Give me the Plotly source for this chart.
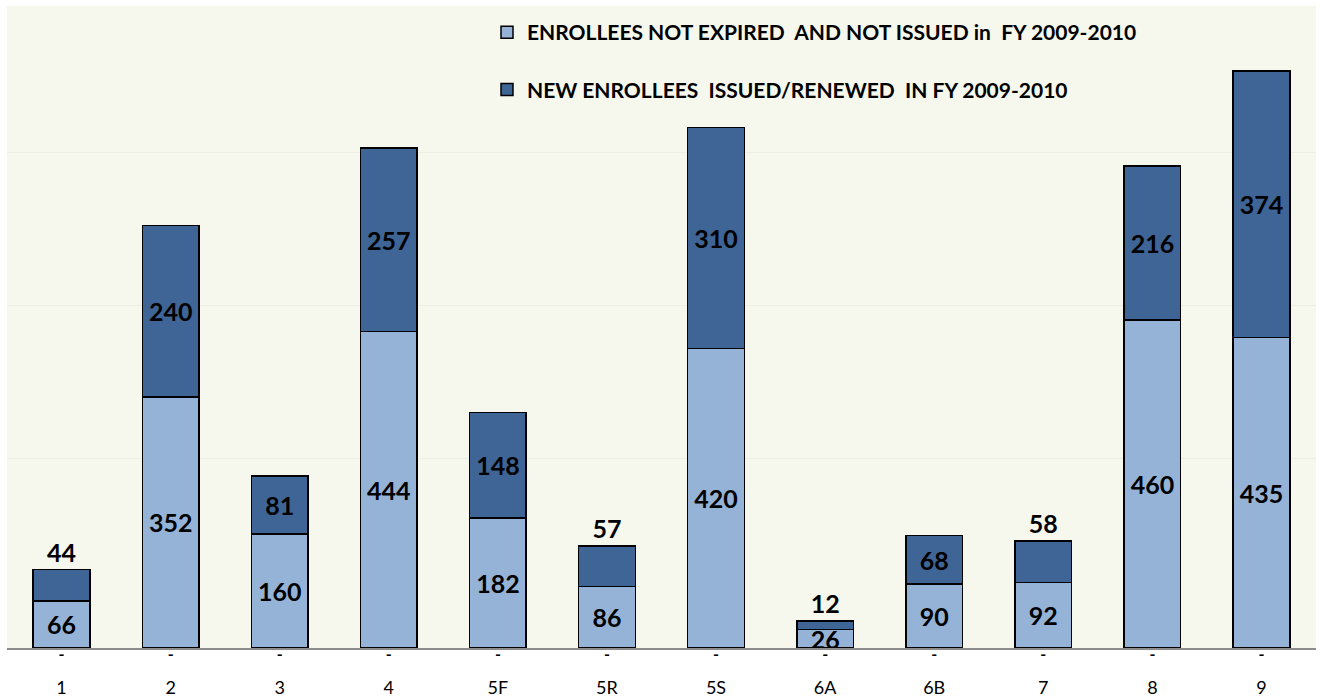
import plotly.graph_objects as go

categories = ["1", "2", "3", "4", "5F", "5R", "5S", "6A", "6B", "7", "8", "9"]
not_expired = [66, 352, 160, 444, 182, 86, 420, 26, 90, 92, 460, 435]
new_issued = [44, 240, 81, 257, 148, 57, 310, 12, 68, 58, 216, 374]
zero_series = [0] * len(categories)

name_light = "ENROLLEES NOT EXPIRED\u00a0 AND NOT ISSUED in\u00a0 FY 2009-2010"
name_dark = "NEW ENROLLEES\u00a0 ISSUED/RENEWED\u00a0 IN FY 2009-2010"

LIGHT = "#95b3d7"
DARK = "#3f6597"
FONT = "Lato"
SMALL_LIMIT = 60  # segments thinner than this get their label above the bar

dark_positions = ["outside" if v < SMALL_LIMIT else "inside" for v in new_issued]

fig = go.Figure()
fig.add_trace(go.Bar(
    x=categories, y=not_expired, name=name_light,
    marker=dict(color=LIGHT, line=dict(color="black", width=1.5)),
    width=0.52,
    text=[str(v) for v in not_expired],
    textposition="inside", insidetextanchor="middle", textangle=0,
    constraintext="none",
    textfont=dict(family=FONT, size=25, color="black", weight="bold"),
    insidetextfont=dict(family=FONT, size=25, color="black", weight="bold"),
    legendgroup="a", hoverinfo="x+y",
))
fig.add_trace(go.Bar(
    x=categories, y=new_issued, name=name_dark,
    marker=dict(color=DARK, line=dict(color="black", width=1.5)),
    width=0.52,
    text=[str(v) for v in new_issued],
    textposition=dark_positions, insidetextanchor="middle", textangle=0,
    constraintext="none",
    textfont=dict(family=FONT, size=25, color="black", weight="bold"),
    insidetextfont=dict(family=FONT, size=25, color="black", weight="bold"),
    outsidetextfont=dict(family=FONT, size=25, color="black", weight="bold"),
    cliponaxis=False,
    legendgroup="b", hoverinfo="x+y",
))
fig.add_trace(go.Scatter(
    x=categories, y=zero_series, mode="text", text=["-"] * len(categories),
    textposition="bottom center",
    textfont=dict(family=FONT, size=16, color="black", weight="bold"),
    showlegend=False, cliponaxis=False, hoverinfo="skip",
))

fig.update_layout(
    width=1320, height=698,
    barmode="stack",
    paper_bgcolor="white",
    plot_bgcolor="#f6f8ee",
    margin=dict(l=7, r=4, t=6, b=50, autoexpand=False),
    font=dict(family=FONT, color="black"),
    legend=dict(
        x=(487 - 7) / 1309, y=1 - 6 / 642, xanchor="left", yanchor="top",
        orientation="v", traceorder="grouped", tracegroupgap=27,
        font=dict(family=FONT, size=21, color="black", weight="bold"),
        bgcolor="rgba(0,0,0,0)",
    ),
    xaxis=dict(
        type="category", range=[-0.5, len(categories) - 0.5],
        showline=True, linecolor="#8c8c8c", linewidth=2,
        ticks="", ticklabelstandoff=22,
        tickfont=dict(family=FONT, size=18, color="black"),
        showgrid=False, zeroline=False,
    ),
    yaxis=dict(
        range=[0, 900],
        showticklabels=False, showline=False, zeroline=False,
        tickvals=[265, 480, 695], showgrid=True, gridcolor="#ecefe2", gridwidth=1,
    ),
)

fig.write_html("out.html", config={"displayModeBar": False},
               post_script="document.body.style.margin='0';")
